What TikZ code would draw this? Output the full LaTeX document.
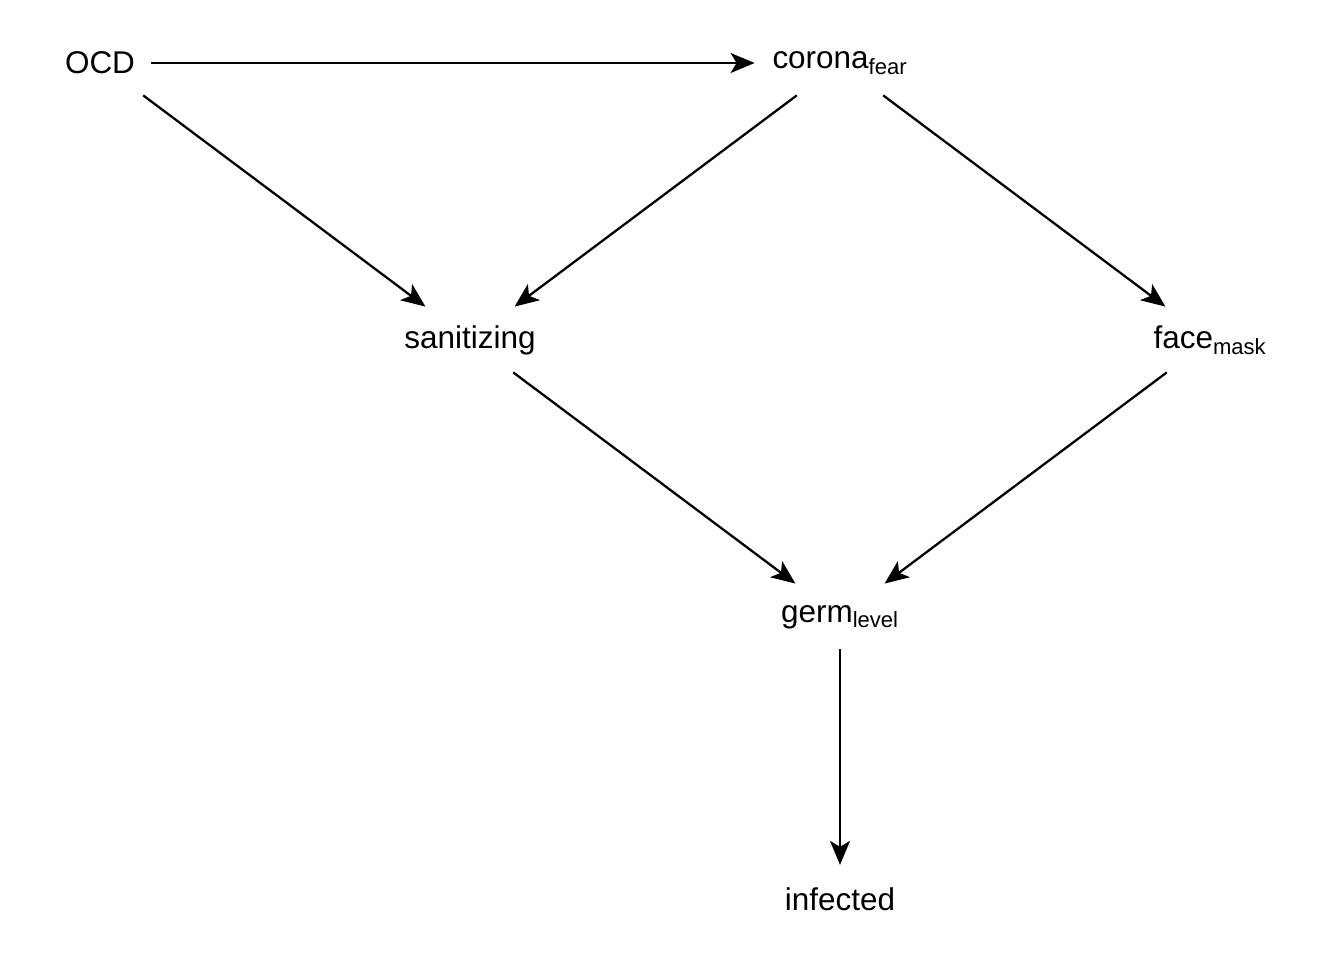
\documentclass[tikz,border=0pt]{standalone}
\usepackage{fontspec}
\setmainfont{Liberation Sans}
\usetikzlibrary{positioning,arrows.meta}

\newcommand{\lbl}[2]{#1\textsubscript{#2}}

\begin{document}
\begin{tikzpicture}[> = {Stealth[length = 0.48cm, width = 0.4cm, inset = 0.12cm]}, shorten > = 1pt, auto, node distance = 5.54cm, line width = 1.3pt]
\tikzstyle{every node}=[
  font = \fontsize{17.9}{21}\selectfont,
  inner xsep = 0.3cm,
  minimum height = 1.25cm
]
\useasboundingbox (-2,1.26) rectangle (24.88,-17.94);

\node (O)  {OCD};
\node (C) [right of = O, xshift = 9.26cm] {\lbl{corona}{fear}};
\node (S) [below of = O, xshift = 7.4cm] {sanitizing};
\node (F) [below of = C, xshift = 7.4cm] {\lbl{face}{mask}};
\node (G) [below of = S, xshift = 7.4cm] {\lbl{germ}{level}};
\node (I) [below of = G, yshift = -0.1cm] {infected};

\path[->] (O) edge node {} (C);
\path[->] (O) edge node {} (S);
\path[->] (C) edge node {} (S);
\path[->] (C) edge node {} (F);
\path[->] (S) edge node {} (G);
\path[->] (F) edge node {} (G);
\path[->] (G) edge node {} (I);
\end{tikzpicture}
\end{document}
